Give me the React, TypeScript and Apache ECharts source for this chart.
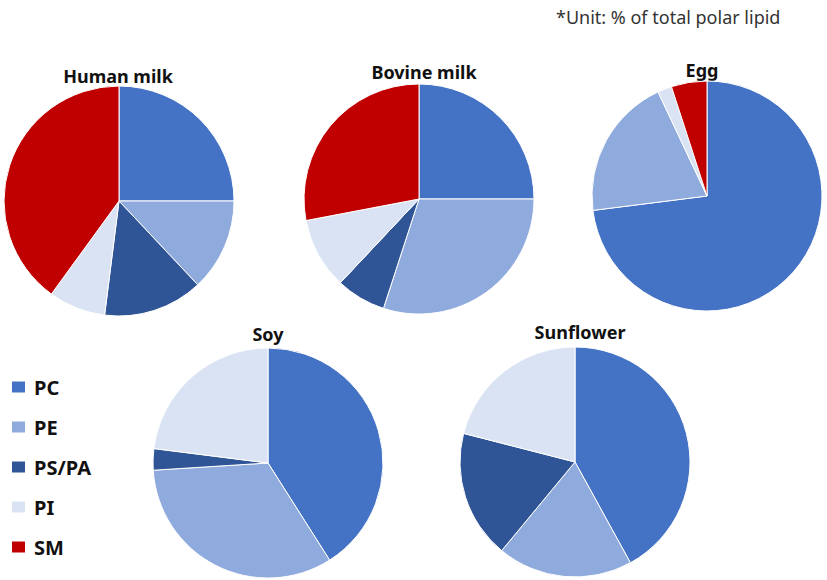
import React, { useEffect, useRef } from "react";
import * as echarts from "echarts";

const lipidClasses = ["PC", "PE", "PS/PA", "PI", "SM"];
const classColors = ["#4472C4", "#8FAADC", "#2F5597", "#DAE3F3", "#C00000"];

const sources = ["Human milk", "Bovine milk", "Egg", "Soy", "Sunflower"];
const humanMilk = [25, 13, 14, 8, 40];
const bovineMilk = [25, 30, 7, 10, 28];
const egg = [73, 20, 0, 2, 5];
const soy = [41, 33, 3, 23, 0];
const sunflower = [42, 19, 18, 21, 0];
const sourceValues = [humanMilk, bovineMilk, egg, soy, sunflower];

const unitNote = "*Unit: % of total polar lipid";

const centers: [number, number][] = [
  [119, 201],
  [419, 199],
  [707, 196],
  [268, 463],
  [575, 462],
];
const titlePos: [number, number][] = [
  [118, 76],
  [424, 72],
  [702, 70],
  [268, 334],
  [580, 332],
];

export default function App() {
  const ref = useRef<HTMLDivElement>(null);
  useEffect(() => {
    if (!ref.current) return;
    const chart = echarts.init(ref.current, null, { renderer: "svg" });
    const font = "'Noto Sans', 'Open Sans', sans-serif";
    const series = sources.map((name, i) => ({
      type: "pie",
      name,
      center: centers[i],
      radius: 115,
      startAngle: 90,
      clockwise: true,
      label: { show: false },
      labelLine: { show: false },
      emphasis: { disabled: true },
      itemStyle: { borderColor: "#ffffff", borderWidth: 1 },
      data: lipidClasses
        .map((c, k) => ({ name: c, value: sourceValues[i][k], itemStyle: { color: classColors[k] } }))
        .filter((d) => d.value > 0),
    }));
    const titles = sources.map((name, i) => ({
      type: "text",
      x: titlePos[i][0],
      y: titlePos[i][1],
      style: {
        text: name,
        fontSize: 18,
        fontWeight: "bold",
        fontFamily: font,
        fill: "#111111",
        textAlign: "center",
        textVerticalAlign: "middle",
      },
    }));
    chart.setOption({
      animation: false,
      color: classColors,
      legend: {
        orient: "vertical",
        left: 10,
        top: 377,
        padding: 0,
        icon: "rect",
        itemWidth: 15,
        itemHeight: 13,
        itemGap: 20,
        data: lipidClasses,
        selectedMode: false,
        textStyle: {
          fontSize: 20,
          fontWeight: "bold",
          fontFamily: font,
          color: "#111111",
          lineHeight: 20,
          padding: [0, 0, 0, 3],
        },
      },
      graphic: [
        ...titles,
        {
          type: "text",
          x: 556,
          y: 17,
          style: {
            text: unitNote,
            fontSize: 18,
            fontFamily: font,
            fill: "#333333",
            textAlign: "left",
            textVerticalAlign: "middle",
          },
        },
      ],
      series,
    });
    return () => chart.dispose();
  }, []);
  return (
    <div
      ref={ref}
      style={{ position: "fixed", left: 0, top: 0, width: 827, height: 580, background: "#ffffff" }}
    />
  );
}
